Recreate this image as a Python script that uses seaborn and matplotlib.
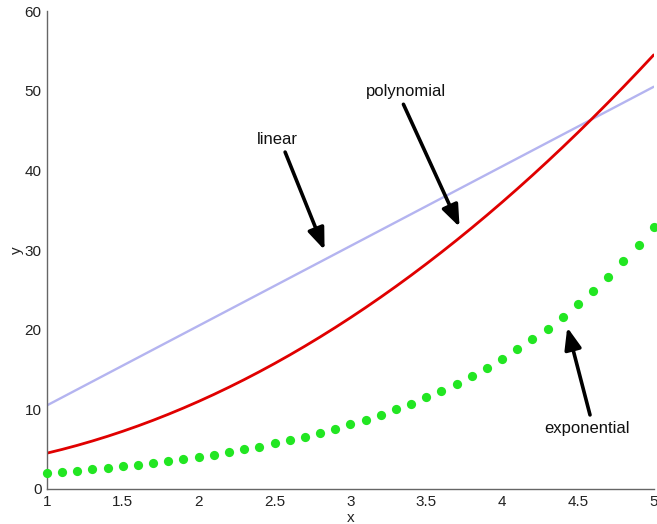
import matplotlib
matplotlib.use("Agg")
import matplotlib.pyplot as plt
import seaborn as sns
import pandas as pd

# ---- data ----
x_vals = [1.0, 1.1, 1.2, 1.3, 1.4, 1.5, 1.6, 1.7, 1.8, 1.9, 2.0, 2.1, 2.2, 2.3,
          2.4, 2.5, 2.6, 2.7, 2.8, 2.9, 3.0, 3.1, 3.2, 3.3, 3.4, 3.5, 3.6, 3.7,
          3.8, 3.9, 4.0, 4.1, 4.2, 4.3, 4.4, 4.5, 4.6, 4.7, 4.8, 4.9, 5.0]
linear_y = [10.5, 11.5, 12.5, 13.5, 14.5, 15.5, 16.5, 17.5, 18.5, 19.5, 20.5,
            21.5, 22.5, 23.5, 24.5, 25.5, 26.5, 27.5, 28.5, 29.5, 30.5, 31.5,
            32.5, 33.5, 34.5, 35.5, 36.5, 37.5, 38.5, 39.5, 40.5, 41.5, 42.5,
            43.5, 44.5, 45.5, 46.5, 47.5, 48.5, 49.5, 50.5]
poly_y = [4.5, 4.97, 5.48, 6.03, 6.62, 7.25, 7.92, 8.63, 9.38, 10.17, 11.0,
          11.87, 12.78, 13.73, 14.72, 15.75, 16.82, 17.93, 19.08, 20.27, 21.5,
          22.77, 24.08, 25.43, 26.82, 28.25, 29.72, 31.23, 32.78, 34.37, 36.0,
          37.67, 39.38, 41.13, 42.92, 44.75, 46.62, 48.53, 50.48, 52.47, 54.5]
exp_y = [2.0, 2.15, 2.3, 2.47, 2.65, 2.84, 3.04, 3.27, 3.5, 3.76, 4.03, 4.32,
         4.63, 4.97, 5.33, 5.72, 6.13, 6.58, 7.05, 7.56, 8.11, 8.7, 9.33, 10.0,
         10.73, 11.51, 12.35, 13.24, 14.2, 15.23, 16.34, 17.52, 18.79, 20.15,
         21.62, 23.18, 24.86, 26.67, 28.6, 30.67, 32.9]

x_ticks = [1, 1.5, 2, 2.5, 3, 3.5, 4, 4.5, 5]
x_tick_labels = ["1", "1.5", "2", "2.5", "3", "3.5", "4", "4.5", "5"]
y_ticks = [0, 10, 20, 30, 40, 50, 60]

labels = ["linear", "polynomial", "exponential"]
label_pos = [(2.52, 43.9), (3.37, 49.9), (4.56, 7.6)]
arrow_tail = [(2.57, 42.3), (3.35, 48.3), (4.58, 9.3)]
arrow_head = [(2.83, 30.0), (3.72, 32.9), (4.43, 20.3)]

# ---- plotting ----
sns.set_style("white")
plt.rcParams["font.family"] = ["Liberation Sans", "DejaVu Sans"]

fig = plt.figure(figsize=(6.57, 5.24), dpi=100)
ax = fig.add_axes([0.0715, 0.0668, 0.9235, 0.912])

df = pd.DataFrame({"x": x_vals, "linear": linear_y, "poly": poly_y,
                   "exp": exp_y})

sns.lineplot(data=df, x="x", y="linear", ax=ax, color="#b4b4f0", lw=1.7)
sns.lineplot(data=df, x="x", y="poly", ax=ax, color="#e00000", lw=2.0)
sns.scatterplot(data=df, x="x", y="exp", ax=ax, color="#22e622", s=44,
                linewidth=0, clip_on=False, zorder=3)

ax.set_xlim(1, 5)
ax.set_ylim(0, 60)
ax.set_xticks(x_ticks)
ax.set_xticklabels(x_tick_labels)
ax.set_yticks(y_ticks)
ax.tick_params(direction="in", length=4, width=0.8, colors="#555555",
               labelcolor="#222222", labelsize=11, pad=4)
for s in ["top", "right"]:
    ax.spines[s].set_visible(False)
for s in ["left", "bottom"]:
    ax.spines[s].set_color("#666666")
    ax.spines[s].set_linewidth(1.0)

ax.set_xlabel("x", fontsize=11, labelpad=2, color="#222222")
ax.set_ylabel("y", fontsize=11, labelpad=0, color="#222222")

for lab, pos, tail, head in zip(labels, label_pos, arrow_tail, arrow_head):
    ax.text(pos[0], pos[1], lab, fontsize=12, ha="center", va="center",
            color="#111111")
    ax.annotate("", xy=head, xytext=tail,
                arrowprops=dict(arrowstyle="-|>,head_length=0.9,head_width=0.35",
                                color="black", lw=2.6,
                                mutation_scale=14.5, shrinkA=0, shrinkB=0))

fig.savefig("out.png", dpi=100)
